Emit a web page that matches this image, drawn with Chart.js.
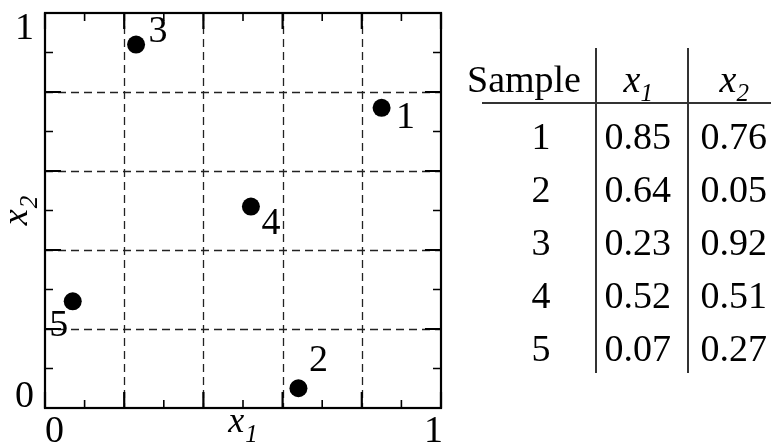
<!DOCTYPE html>
<html lang="en">
<head>
  <meta charset="UTF-8" />
  <title>Five samples in the unit square</title>
  <script src="https://cdn.jsdelivr.net/npm/chart.js"></script>
  <style>
    body {
      margin: 0;
      background: #fff;
      font-family: "Liberation Serif", "Times New Roman", serif;
      color: #000;
    }
    #wrap {
      position: relative;
      width: 771px;
      height: 444px;
      overflow: hidden;
    }
    #plotBox {
      position: absolute;
      left: 0;
      top: 0;
      width: 771px;
      height: 444px;
    }
    /* table is laid out by hand next to the plot */
    .cell {
      position: absolute;
      font-size: 38px;
      line-height: 38px;
      white-space: nowrap;
    }
    .cell .sub {
      font-size: 25px;
      position: relative;
      top: 9px;
    }
    .vline, .hline {
      position: absolute;
      background: #333;
    }
  </style>
</head>
<body>
  <div id="wrap">
    <div id="plotBox"><canvas id="plot"></canvas></div>
    <div id="table"></div>
  </div>

  <script>
    // sample table
    const samples = ['1', '2', '3', '4', '5'];
    const x1 = [0.85, 0.64, 0.23, 0.52, 0.07];
    const x2 = [0.76, 0.05, 0.92, 0.51, 0.27];
    const axisTicks = [0, 1];
    const axisTickLabels = ['0', '1'];

    // where each sample number sits relative to its dot (px)
    const labelOffsets = [[24, 10], [20, -27], [22, -13], [20, 17], [-14, 25]];

    const FONT = '"Liberation Serif", "Times New Roman", serif';

    // ---- table ----
    function buildTable() {
      const t = document.getElementById('table');
      const colSample = 541, colX1 = 638, colX2 = 734;
      const headBase = 92, firstBase = 149, rowGap = 53;
      const asc = 32; // baseline offset inside a 38px line box

      function put(html, cx, base, align) {
        const d = document.createElement('div');
        d.className = 'cell';
        d.innerHTML = html;
        t.appendChild(d);
        const w = d.offsetWidth;
        const left = align === 'left' ? cx : cx - w / 2;
        d.style.left = left + 'px';
        d.style.top = (base - asc) + 'px';
      }

      put('Sample', 467, headBase, 'left');
      put('<i>x</i><i class="sub">1</i>', colX1, headBase);
      put('<i>x</i><i class="sub">2</i>', colX2, headBase);

      samples.forEach((s, i) => {
        const base = firstBase + i * rowGap;
        put(s, colSample, base);
        put(x1[i].toFixed(2), colX1, base);
        put(x2[i].toFixed(2), colX2, base);
      });

      [595, 687].forEach(x => {
        const v = document.createElement('div');
        v.className = 'vline';
        Object.assign(v.style, { left: x + 'px', top: '48px', width: '1.6px', height: '325px' });
        t.appendChild(v);
      });
      const h = document.createElement('div');
      h.className = 'hline';
      Object.assign(h.style, { left: '482px', top: '102px', width: '289px', height: '1.6px' });
      t.appendChild(h);
    }

    // ---- frame, grid, inward ticks and labels ----
    const framePlugin = {
      id: 'frame',
      beforeDatasetsDraw(chart) {
        const { ctx, scales: { x, y } } = chart;
        ctx.save();
        ctx.strokeStyle = '#222';
        ctx.lineWidth = 1.3;
        ctx.setLineDash([8, 5]);
        for (let i = 2; i < 10; i += 2) {
          const px = Math.round(x.getPixelForValue(i / 10)) + 0.5;
          const py = Math.round(y.getPixelForValue(i / 10)) + 0.5;
          ctx.beginPath();
          ctx.moveTo(px, y.top);
          ctx.lineTo(px, y.bottom);
          ctx.stroke();
          ctx.beginPath();
          ctx.moveTo(x.left, py);
          ctx.lineTo(x.right, py);
          ctx.stroke();
        }
        ctx.restore();
      },
      afterDatasetsDraw(chart) {
        const { ctx, chartArea: a, scales: { x, y } } = chart;
        ctx.save();
        ctx.strokeStyle = '#000';
        ctx.setLineDash([]);

        // ticks every 0.1, longer every 0.2, all pointing inward
        for (let i = 0; i <= 10; i++) {
          const major = i % 2 === 0;
          const len = major ? 16 : 8;
          ctx.lineWidth = major ? 2.2 : 1.6;
          const px = x.getPixelForValue(i / 10);
          const py = y.getPixelForValue(i / 10);
          ctx.beginPath();
          ctx.moveTo(px, a.bottom); ctx.lineTo(px, a.bottom - len);
          ctx.moveTo(px, a.top); ctx.lineTo(px, a.top + len);
          ctx.moveTo(a.left, py); ctx.lineTo(a.left + len, py);
          ctx.moveTo(a.right, py); ctx.lineTo(a.right - len, py);
          ctx.stroke();
        }

        ctx.lineWidth = 2.2;
        ctx.strokeRect(a.left, a.top, a.right - a.left, a.bottom - a.top);

        // tick labels, pulled inside the ends of each axis
        ctx.fillStyle = '#000';
        ctx.font = '38px ' + FONT;
        ctx.textBaseline = 'alphabetic';
        axisTicks.forEach((v, i) => {
          const py = y.getPixelForValue(v);
          ctx.textAlign = 'right';
          ctx.fillText(axisTickLabels[i], a.left - 11, v === 1 ? py + 26 : py - 1);
          const px = x.getPixelForValue(v);
          ctx.textAlign = v === 1 ? 'right' : 'left';
          ctx.fillText(axisTickLabels[i], v === 1 ? px + 2 : px, 442);
        });

        // sample numbers beside the dots
        ctx.textAlign = 'center';
        ctx.textBaseline = 'middle';
        samples.forEach((s, i) => {
          const px = x.getPixelForValue(x1[i]);
          const py = y.getPixelForValue(x2[i]);
          ctx.fillText(s, px + labelOffsets[i][0], py + labelOffsets[i][1]);
        });

        // axis titles: italic x with italic subscript
        function title(sub) {
          ctx.font = 'italic 36px ' + FONT;
          const wx = ctx.measureText('x').width;
          ctx.font = 'italic 25px ' + FONT;
          const ws = ctx.measureText(sub).width;
          const start = -(wx + ws + 1) / 2;
          ctx.textAlign = 'left';
          ctx.textBaseline = 'alphabetic';
          ctx.font = 'italic 36px ' + FONT;
          ctx.fillText('x', start, 0);
          ctx.font = 'italic 25px ' + FONT;
          ctx.fillText(sub, start + wx + 1, 10);
        }
        ctx.save();
        ctx.translate((a.left + a.right) / 2, 432);
        title('1');
        ctx.restore();
        ctx.save();
        ctx.translate(27, (a.top + a.bottom) / 2);
        ctx.rotate(-Math.PI / 2);
        title('2');
        ctx.restore();

        ctx.restore();
      }
    };

    function buildChart() {
      new Chart(document.getElementById('plot'), {
        type: 'scatter',
        data: {
          datasets: [{
            data: x1.map((v, i) => ({ x: v, y: x2[i] })),
            backgroundColor: '#000',
            borderWidth: 0,
            pointRadius: 9,
            pointHoverRadius: 9,
            clip: false
          }]
        },
        options: {
          responsive: true,
          maintainAspectRatio: false,
          animation: false,
          devicePixelRatio: 1,
          layout: { padding: { left: 45, right: 330, top: 13, bottom: 36 } },
          plugins: { legend: { display: false }, tooltip: { enabled: false } },
          events: [],
          scales: {
            x: { type: 'linear', min: 0, max: 1, display: false },
            y: { type: 'linear', min: 0, max: 1, display: false }
          }
        },
        plugins: [framePlugin]
      });
    }

    buildTable();
    buildChart();
  </script>
</body>
</html>
